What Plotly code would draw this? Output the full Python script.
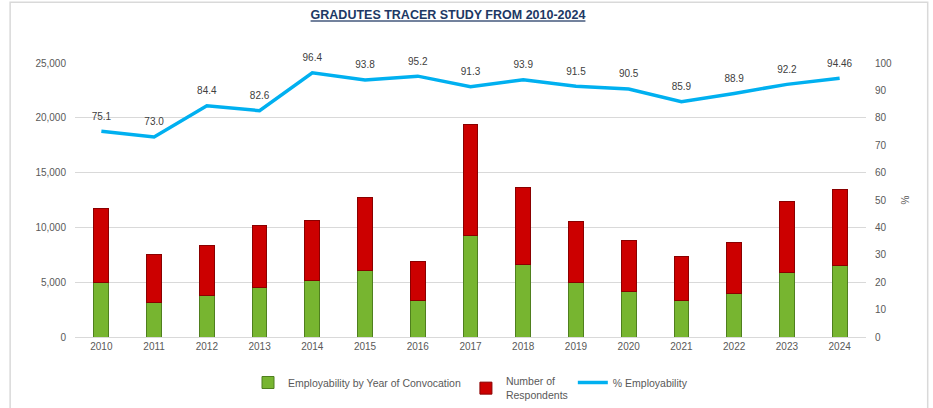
import plotly.graph_objects as go

YEARS = ["2010", "2011", "2012", "2013", "2014", "2015", "2016", "2017",
         "2018", "2019", "2020", "2021", "2022", "2023", "2024"]

# stacked segments
EMPLOYED = [5000, 3130, 3790, 4550, 5150, 6090, 3340, 9250,
            6580, 5000, 4180, 3340, 4000, 5910, 6520]
RESPONDENTS = [6760, 4360, 4550, 5580, 5480, 6610, 3570, 10150,
               7030, 5580, 4670, 4000, 4640, 6450, 6970]

PCT_EMPLOYABILITY = [75.1, 73.0, 84.4, 82.6, 96.4, 93.8, 95.2, 91.3,
                     93.9, 91.5, 90.5, 85.9, 88.9, 92.2, 94.46]
PCT_LABELS = ["75.1", "73.0", "84.4", "82.6", "96.4", "93.8", "95.2", "91.3",
              "93.9", "91.5", "90.5", "85.9", "88.9", "92.2", "94.46"]

GREY = "#595959"
FONT = "Liberation Sans"


def main():
    fig = go.Figure()

    fig.add_trace(go.Bar(
        x=YEARS, y=EMPLOYED,
        name="Employability by Year of Convocation",
        marker=dict(color="#77B530", line=dict(color="#4F7F1E", width=1)),
    ))
    fig.add_trace(go.Bar(
        x=YEARS, y=RESPONDENTS,
        name="Number of<br>Respondents",
        marker=dict(color="#CC0000", line=dict(color="#8A0000", width=1)),
    ))
    # invisible markers only used to push the value labels up off the line
    fig.add_trace(go.Scatter(
        x=YEARS, y=PCT_EMPLOYABILITY,
        name="% Employability",
        mode="lines+markers+text",
        text=PCT_LABELS,
        textposition="top center",
        textfont=dict(size=10, color="#404040", family=FONT),
        line=dict(color="#00B0F0", width=3.5),
        marker=dict(size=13, color="rgba(0,0,0,0)"),
        cliponaxis=False,
        yaxis="y2",
    ))

    fig.update_layout(
        width=933, height=408, autosize=False,
        margin=dict(l=75, r=67, t=63, b=71),
        barmode="stack",
        bargap=0.72,
        plot_bgcolor="white",
        paper_bgcolor="white",
        font=dict(family=FONT, size=10, color=GREY),
        title=dict(
            text="<b>GRADUTES TRACER STUDY FROM 2010-2024</b>",
            x=448 / 933, xanchor="center",
            y=1 - 15 / 408, yanchor="middle",
            font=dict(family=FONT, size=12.5, color="#203864", lineposition="under"),
        ),
        xaxis=dict(
            range=[-0.5, len(YEARS) - 0.5],
            showgrid=False, showline=True, linecolor="#D9D9D9",
            ticks="", tickfont=dict(size=10, color=GREY),
            automargin=False,
        ),
        yaxis=dict(
            range=[0, 25000], dtick=5000, tickformat=",",
            gridcolor="#D9D9D9", zeroline=False,
            tickfont=dict(size=10, color=GREY), ticklabelstandoff=8,
            automargin=False,
        ),
        yaxis2=dict(
            range=[0, 100], dtick=10, overlaying="y", side="right",
            showgrid=False, zeroline=False,
            tickfont=dict(size=10, color=GREY), ticklabelstandoff=8,
            title=dict(text="%", font=dict(size=10, color=GREY), standoff=10),
            automargin=False,
        ),
        legend=dict(
            orientation="h",
            xref="container", yref="container",
            x=248 / 933, xanchor="left",
            y=1 - 368 / 408, yanchor="top",
            font=dict(size=10.5, color=GREY),
            traceorder="normal",
            itemwidth=30,
        ),
        showlegend=True,
    )

    # light chart-area frame
    fig.add_shape(
        type="rect", xref="paper", yref="paper",
        x0=-0.082, x1=1.078, y0=-0.3, y1=1.222,
        line=dict(color="#D9D9D9", width=1.5), layer="below",
    )

    # drop the default body margin so the figure sits at the window origin
    fig.write_html(
        "out.html",
        config={"displayModeBar": False},
        post_script="document.body.style.margin='0';",
    )


if __name__ == "__main__":
    main()
